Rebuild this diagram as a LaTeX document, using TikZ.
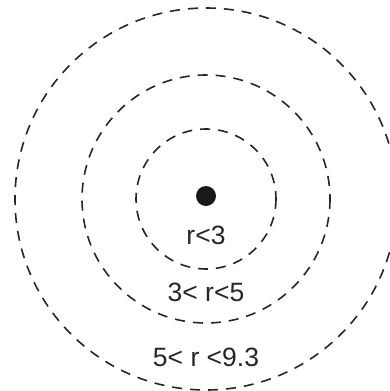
\documentclass[tikz,border=0pt]{standalone}
\usepackage{fontspec}
\setmainfont{Liberation Sans}
\begin{document}
\begin{tikzpicture}[x=1pt,y=-1pt,
  ring/.style={draw=black!85,line width=1.6pt,dash pattern=on 10pt off 8pt},
  lbl/.style={font=\fontsize{26.5}{30}\selectfont,text=black!85,inner sep=0pt}]
\useasboundingbox (0,0) rectangle (390,391);
\clip (0,0) rectangle (390,391);
\coordinate (c) at (206,199);
\draw[ring] (c) circle[radius=70];
\draw[ring] (c) circle[radius=124];
\draw[ring] (c) circle[radius=191];
\fill[black!90] (206,196) circle[radius=10];
\node[lbl] (l1) at (206,235) {r<3};
\node[lbl] (l2) at (206,292) {3< r<5};
\node[lbl] (l3) at (206,357) {5< r <9.3};
\end{tikzpicture}
\end{document}
